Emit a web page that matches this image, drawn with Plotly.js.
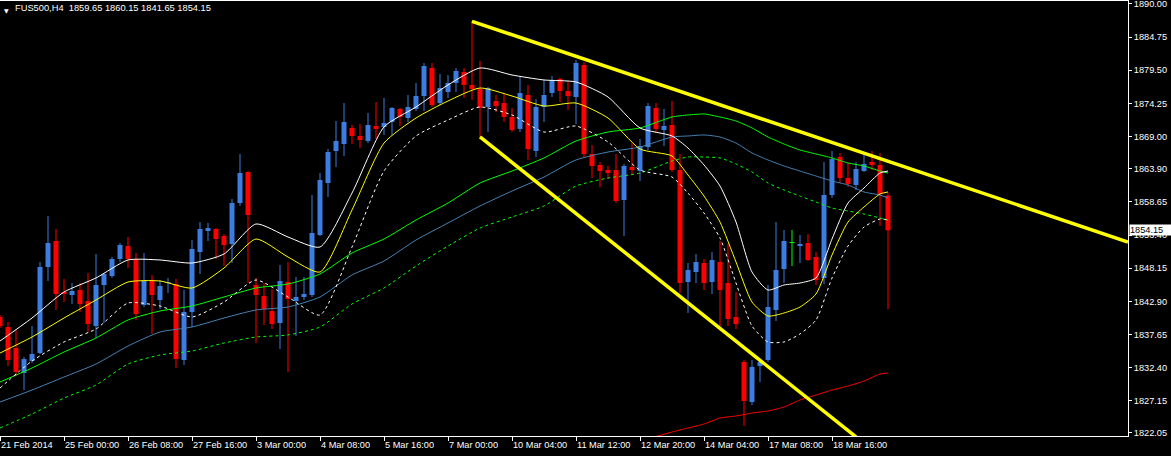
<!DOCTYPE html>
<html>
<head>
<meta charset="utf-8">
<script src="https://cdn.plot.ly/plotly-3.0.1.min.js"></script>
<style>
html,body{margin:0;padding:0;background:#000;}
#chart{width:1171px;height:456px;}
</style>
</head>
<body>
<div id="chart"></div>
<script>
// ---- candle data (FUS500, H4) ----
const opens = [1840.42,1838.83,1835.51,1831.55,1833.45,1834.71,1848.34,1852.46,1844.38,1843.90,
1844.69,1842.95,1838.99,1845.49,1846.91,1849.60,1851.66,1849.60,1842.32,1846.28,
1843.11,1845.80,1845.64,1833.61,1841.21,1850.71,1854.04,1854.36,1853.25,1851.98,
1858.47,1863.39,1845.49,1843.74,1841.37,1839.47,1845.96,1842.95,1843.59,1843.90,
1853.41,1861.64,1866.71,1867.82,1870.35,1869.09,1868.30,1870.67,1870.51,1871.31,
1873.36,1871.94,1873.36,1875.42,1879.86,1874.31,1876.06,1877.48,1879.23,1877.17,
1876.53,1873.68,1874.63,1874.31,1872.10,1870.20,1875.58,1866.71,1873.68,1875.90,
1878.12,1876.22,1875.27,1880.33,1866.24,1864.49,1863.70,1863.70,1858.95,1864.18,
1863.54,1867.34,1873.52,1870.04,1870.83,1863.70,1845.96,1847.55,1848.97,1845.96,
1849.13,1845.80,1840.42,1833.29,1826.95,1832.66,1833.61,1841.53,1848.02,1852.14,
1851.66,1852.14,1849.92,1846.59,1859.74,1865.76,1862.43,1861.33,1863.54,1864.97,
1864.49,1859.65];
const highs = [1840.73,1839.63,1838.36,1834.08,1838.99,1849.13,1856.42,1854.36,1846.44,1845.80,
1845.80,1847.39,1850.40,1847.39,1849.92,1852.14,1853.09,1850.55,1850.55,1847.07,
1846.28,1846.59,1846.44,1844.69,1852.61,1855.47,1855.31,1854.51,1853.56,1859.11,
1866.24,1863.55,1846.59,1845.80,1844.85,1848.65,1849.13,1846.75,1846.75,1859.74,
1863.23,1867.03,1871.46,1874.31,1870.83,1870.99,1872.73,1874.47,1875.11,1873.68,
1873.52,1875.58,1877.48,1880.65,1880.65,1878.91,1878.75,1879.86,1879.86,1887.30,
1880.97,1876.85,1875.58,1875.90,1873.52,1878.43,1877.17,1874.95,1877.96,1878.59,
1878.30,1877.80,1881.13,1880.81,1867.66,1864.97,1864.34,1866.24,1864.65,1867.98,
1868.61,1874.31,1874.31,1873.36,1874.63,1866.24,1848.97,1850.40,1849.60,1850.71,
1852.46,1851.98,1844.38,1833.61,1833.61,1833.76,1845.49,1855.47,1854.20,1854.20,
1853.41,1853.56,1850.71,1864.97,1866.71,1866.40,1864.81,1864.97,1866.08,1866.71,
1866.40,1860.15];
const lows = [1838.67,1832.66,1831.07,1828.85,1833.13,1834.56,1846.12,1841.53,1842.79,1842.48,
1841.21,1838.04,1837.09,1839.47,1846.59,1849.13,1848.18,1839.94,1842.00,1837.72,
1841.68,1844.22,1832.34,1832.81,1838.83,1847.23,1852.46,1849.60,1848.50,1848.97,
1858.00,1845.80,1836.30,1839.15,1838.52,1835.35,1831.71,1837.41,1843.11,1843.59,
1853.25,1859.43,1864.18,1865.92,1867.82,1867.19,1867.98,1868.61,1869.25,1869.25,
1870.67,1871.31,1873.05,1873.05,1873.68,1874.00,1875.11,1876.06,1875.11,1874.79,
1868.93,1869.72,1872.89,1871.31,1869.72,1869.72,1865.29,1865.76,1871.31,1875.27,
1874.47,1873.21,1870.99,1865.60,1862.43,1861.01,1862.28,1858.47,1853.25,1862.91,
1861.96,1866.87,1869.56,1867.50,1863.39,1844.22,1841.05,1845.80,1844.69,1844.06,
1838.99,1838.99,1838.52,1823.15,1826.48,1830.12,1833.29,1839.78,1845.80,1848.50,
1848.97,1849.30,1845.49,1845.64,1859.27,1861.64,1861.01,1860.53,1863.39,1863.70,
1854.83,1841.65];
const closes = [1838.99,1833.61,1831.71,1833.76,1834.56,1848.34,1852.14,1844.06,1844.06,1844.54,
1842.48,1839.31,1845.49,1847.23,1849.60,1851.82,1849.60,1840.89,1846.12,1843.90,
1845.33,1845.96,1833.76,1841.21,1851.19,1854.36,1854.51,1852.77,1851.82,1858.47,
1863.23,1856.57,1843.90,1841.68,1839.31,1846.12,1843.27,1843.59,1844.06,1853.72,
1862.12,1866.55,1868.30,1871.31,1869.09,1868.45,1870.83,1870.20,1871.15,1873.52,
1872.10,1873.68,1875.42,1880.18,1874.00,1876.69,1877.48,1879.38,1877.17,1876.53,
1873.52,1876.69,1873.84,1872.10,1870.04,1875.90,1867.03,1873.68,1875.58,1877.96,
1876.22,1875.42,1880.65,1866.24,1864.34,1863.54,1863.23,1858.79,1864.34,1863.70,
1867.50,1873.84,1870.20,1870.67,1863.70,1845.80,1847.86,1849.13,1845.80,1849.45,
1844.69,1840.10,1839.31,1827.11,1832.50,1833.29,1842.00,1847.86,1852.46,1852.14,
1851.98,1849.45,1846.28,1859.74,1865.44,1862.43,1861.48,1863.86,1864.65,1864.49,
1859.90,1854.15];

// ---- indicator lines (read at these bar positions) ----
const maIdx = [0,4,8,12,16,20,24,28,32,36,40,44,48,52,56,60,64,68,72,76,80,84,
86,88,90,92,94,96,98,100,102,104,106,108,110,111];
const whiteMA = [1836.61,1840.26,1844.37,1846.60,1849.45,1849.45,1848.97,1850.40,1855.15,1853.09,1851.50,1860.05,
1870.52,1873.68,1877.17,1879.86,1878.75,1877.96,1877.64,1875.27,1870.36,1869.09,
1867.18,1864.50,1861.17,1855.46,1847.54,1844.69,1845.49,1845.80,1846.60,1852.77,1858.47,1860.85,1863.22,1863.54];
const yellowMA = [1834.71,1837.25,1840.26,1843.11,1845.96,1846.12,1845.01,1848.18,1852.77,1849.92,1847.54,1857.37,
1867.97,1871.94,1874.63,1876.69,1875.42,1873.84,1874.31,1871.94,1867.03,1865.92,
1862.91,1859.58,1855.46,1849.13,1842.79,1840.58,1841.05,1842.00,1844.06,1850.24,1855.46,1857.84,1859.90,1860.22];
const whiteDotted = [1829.17,1833.45,1836.46,1838.52,1842.63,1842.16,1840.42,1842.79,1846.28,1843.59,1840.73,1851.50,
1863.54,1869.09,1871.62,1873.68,1872.42,1869.72,1870.67,1868.14,1863.70,1862.59,
1860.05,1856.89,1852.93,1845.80,1838.99,1836.46,1836.46,1837.73,1839.94,1846.60,1851.66,1854.67,1855.94,1855.78];
const greenMA = [1830.12,1832.34,1834.87,1837.09,1839.94,1841.37,1842.16,1843.59,1845.01,1845.64,1847.23,1850.56,
1852.77,1855.78,1858.47,1861.64,1863.54,1865.61,1868.29,1869.72,1870.36,1872.10,
1872.42,1872.57,1872.10,1871.46,1870.36,1868.93,1867.82,1866.87,1866.24,1865.61,1864.81,1864.34,1863.54,1863.22];
const steelMA = [1826.95,1828.85,1830.91,1832.97,1835.82,1838.04,1838.83,1840.26,1841.53,1842.00,1843.59,1847.07,
1849.29,1852.61,1855.31,1858.00,1860.37,1862.59,1865.29,1866.55,1867.34,1868.93,
1869.09,1869.25,1868.93,1867.97,1866.40,1865.29,1864.34,1863.54,1862.75,1861.96,1861.33,1860.22,1859.74,1859.27];
const greenDotted = [1822.84,1825.05,1827.58,1829.65,1832.97,1834.40,1835.03,1836.30,1837.25,1837.57,1838.83,1842.48,
1845.01,1848.50,1851.66,1854.51,1856.26,1858.00,1861.17,1862.43,1863.22,1865.13,
1865.76,1865.76,1865.61,1864.65,1863.38,1861.64,1860.53,1859.58,1858.63,1857.68,1857.21,1856.73,1856.10,1855.78];
const redIdx = [80,84,86,88,90,92,94,96,98,100,102,104,106,108,110,111];
const redMA = [1820.78,1822.20,1822.84,1823.47,1824.42,1824.74,1825.21,1825.53,1826.16,1827.27,1828.06,1828.85,
1829.49,1830.28,1831.39,1831.55];

// ---- trend lines ----
const upperTrendX = [59, 141];
const upperTrendY = [1887.25, 1852.30];
const lowerTrendX = [60, 107];
const lowerTrendY = [1868.95, 1821.43];

// ---- axis labels ----
const xTickIdx = [0,8,16,24,32,40,48,56,64,72,80,88,96,104];
const xTickText = ["21 Feb 2014","25 Feb 00:00","26 Feb 08:00","27 Feb 16:00","3 Mar 00:00","4 Mar 08:00",
"5 Mar 16:00","7 Mar 00:00","10 Mar 04:00","11 Mar 12:00","12 Mar 20:00","14 Mar 04:00","17 Mar 08:00","18 Mar 16:00"];
const yTickVals = [1890.00,1884.75,1879.50,1874.25,1869.00,1863.90,1858.65,1853.40,1848.15,1842.90,1837.65,1832.40,1827.15,1822.05];
const symbol = "FUS500,H4";
const lastPrice = 1854.15;

// ---- build ----
const BULL = '#3d7ce0', BEAR = '#ff0000', DOJI = '#00ff00';
const idx = opens.map((_, i) => i);
const col = opens.map((o, i) => closes[i] > o ? BULL : (closes[i] < o ? BEAR : DOJI));
const bodyBase = opens.map((o, i) => Math.min(o, closes[i]));
const bodyLen = opens.map((o, i) => Math.max(Math.abs(closes[i] - o), 0.16));
const wickLen = highs.map((h, i) => h - lows[i]);

const FONT = 'Liberation Sans, Arial, sans-serif';
const traces = [
  {type:'bar', x: idx, base: lows, y: wickLen, width: 0.125, marker:{color: col, line:{width:0}}, hoverinfo:'skip'},
  {type:'bar', x: idx, base: bodyBase, y: bodyLen, width: 0.625, marker:{color: col, line:{width:0}}, hoverinfo:'skip'},
  {type:'scatter', mode:'lines', x: maIdx, y: greenDotted, line:{color:'#00ff00', width:1, dash:'3px,3px', shape:'spline', smoothing:0.6}},
  {type:'scatter', mode:'lines', x: maIdx, y: steelMA, line:{color:'#4682b4', width:1, shape:'spline', smoothing:0.6}},
  {type:'scatter', mode:'lines', x: maIdx, y: greenMA, line:{color:'#00ff00', width:1, shape:'spline', smoothing:0.6}},
  {type:'scatter', mode:'lines', x: maIdx, y: whiteDotted, line:{color:'#ffffff', width:1, dash:'3px,3px', shape:'spline', smoothing:0.6}},
  {type:'scatter', mode:'lines', x: maIdx, y: yellowMA, line:{color:'#ffff00', width:1, shape:'spline', smoothing:0.6}},
  {type:'scatter', mode:'lines', x: maIdx, y: whiteMA, line:{color:'#ffffff', width:1, shape:'spline', smoothing:0.6}},
  {type:'scatter', mode:'lines', x: redIdx, y: redMA, line:{color:'#ff0000', width:1, shape:'spline', smoothing:0.6}},
  {type:'scatter', mode:'lines', x: upperTrendX, y: upperTrendY, line:{color:'#ffff00', width:3.5}},
  {type:'scatter', mode:'lines', x: lowerTrendX, y: lowerTrendY, line:{color:'#ffff00', width:3.5}}
];

const o = opens[opens.length-1], h = highs[highs.length-1], l = lows[lows.length-1], c = closes[closes.length-1];
const layout = {
  width: 1171, height: 456,
  margin: {l:0, r:43, t:1, b:20, pad:0},
  paper_bgcolor:'#000000', plot_bgcolor:'#000000',
  showlegend:false, barmode:'overlay', hovermode:false,
  font:{family: FONT, size: 9.2, color:'#ffffff'},
  xaxis:{
    range:[0, 141], showgrid:false, zeroline:false,
    showline:true, linecolor:'#ffffff', linewidth:1, mirror:true,
    tickmode:'array', tickvals: xTickIdx, ticktext: xTickText,
    ticks:'outside', ticklen:4, tickcolor:'#ffffff', tickwidth:1,
    ticklabelposition:'outside right', ticklabeloverflow:'allow',
    tickfont:{family: FONT, size: 9.2, color:'#ffffff'}
  },
  yaxis:{
    side:'right', range:[1821.57, 1890.47], showgrid:false, zeroline:false,
    showline:true, linecolor:'#ffffff', linewidth:1,
    tickmode:'array', tickvals: yTickVals, ticktext: yTickVals.map(v => v.toFixed(2)),
    ticks:'outside', ticklen:3, tickcolor:'#ffffff', tickwidth:1,
    ticklabeloverflow:'allow',
    tickfont:{family: FONT, size: 9.2, color:'#ffffff'}
  },
  annotations:[
    {xref:'paper', yref:'paper', x:0, y:1, xanchor:'left', yanchor:'top', xshift:2, yshift:-4,
     text:'\u25BC', showarrow:false, font:{family:'DejaVu Sans', size:6, color:'#ffffff'}},
    {xref:'paper', yref:'paper', x:0, y:1, xanchor:'left', yanchor:'top', xshift:14, yshift:-1,
     text: symbol + '\u00a0\u00a0' + [o,h,l,c].map(v => v.toFixed(2)).join(' '),
     showarrow:false, borderpad:0, font:{family: FONT, size: 9.3, color:'#ffffff'}},
    {xref:'paper', yref:'y', x:1, y:lastPrice, xanchor:'left', yanchor:'middle', xshift:1,
     text: lastPrice.toFixed(2), showarrow:false, bgcolor:'#ffffff', borderpad:0, width:42, height:10, align:'left',
     font:{family: FONT, size: 9.2, color:'#000000'}}
  ]
};
Plotly.newPlot('chart', traces, layout, {staticPlot:true, displayModeBar:false});
</script>
</body>
</html>
